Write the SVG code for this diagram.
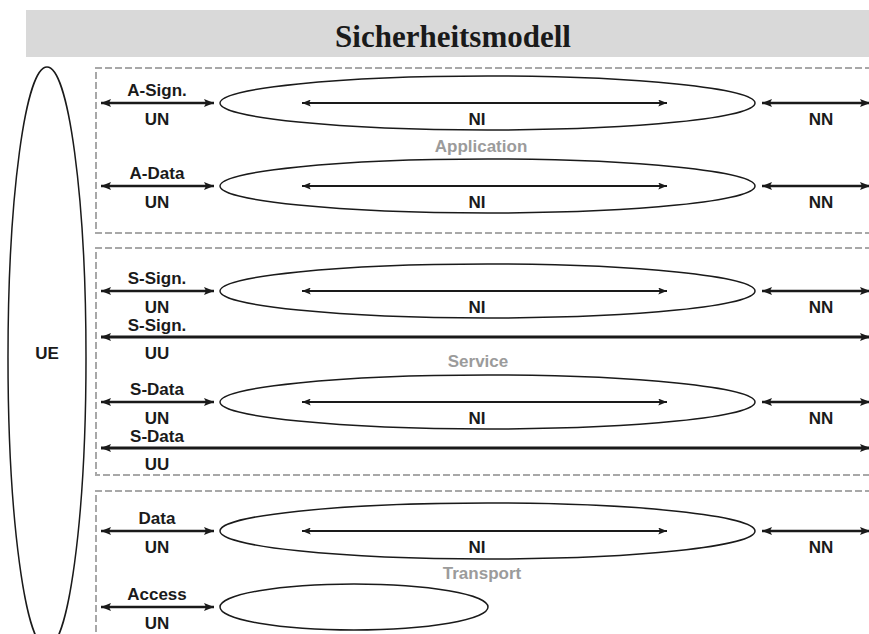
<svg xmlns="http://www.w3.org/2000/svg" width="869" height="634" viewBox="0 0 869 634">
  <defs>
    <marker id="head" viewBox="0 0 10 8" refX="10" refY="4" markerWidth="11" markerHeight="8" markerUnits="userSpaceOnUse" orient="auto-start-reverse">
      <path d="M0,0 L10,4 L0,8 L2,4 Z" fill="#1a1a1a"/>
    </marker>
    <marker id="headSmall" viewBox="0 0 10 8" refX="10" refY="4" markerWidth="10" markerHeight="7" markerUnits="userSpaceOnUse" orient="auto-start-reverse">
      <path d="M0,0 L10,4 L0,8 L2,4 Z" fill="#1a1a1a"/>
    </marker>
  </defs>
  <style>
    .title { font-family: "Liberation Serif", "Times New Roman", serif; font-weight: bold; font-size: 31px; fill: #1a1a1a; text-anchor: middle; }
    .lbl { font-family: "Liberation Sans", Arial, sans-serif; font-weight: bold; font-size: 17px; fill: #1a1a1a; text-anchor: middle; }
    .layer { font-family: "Liberation Sans", Arial, sans-serif; font-weight: bold; font-size: 17px; fill: #9b9b9b; text-anchor: middle; }
    .box { fill: none; stroke: #a8a8a8; stroke-width: 2; stroke-dasharray: 7 3; }
    .cloud { fill: none; stroke: #1a1a1a; stroke-width: 1.5; }
    .link { fill: none; stroke: #1a1a1a; stroke-width: 2.5; marker-start: url(#head); marker-end: url(#head); }
    .ni { fill: none; stroke: #1a1a1a; stroke-width: 2; marker-start: url(#headSmall); marker-end: url(#headSmall); }
    .uu { fill: none; stroke: #1a1a1a; stroke-width: 3; marker-start: url(#head); marker-end: url(#head); }
  </style>

  <!-- heading bar -->
  <g id="heading">
    <rect x="26" y="10" width="843" height="47" fill="#d9d9d9"/>
    <text class="title" x="453" y="47">Sicherheitsmodell</text>
  </g>

  <!-- user equipment -->
  <g id="ue">
    <ellipse class="cloud" cx="47" cy="357.5" rx="39" ry="290.5"/>
    <text class="lbl" x="47" y="359">UE</text>
  </g>

  <!-- layer frames -->
  <g id="layer-application">
    <path class="box" d="M872,68 H96 V233 H872"/>
    <text class="layer" x="481" y="152">Application</text>
  </g>
  <g id="layer-service">
    <path class="box" d="M872,248 H96 V475 H872"/>
    <text class="layer" x="478" y="367">Service</text>
  </g>
  <g id="layer-transport">
    <path class="box" d="M872,491 H96 V640"/>
    <text class="layer" x="482" y="579">Transport</text>
  </g>

  <!-- network domains -->
  <g id="net-a-sign">
    <ellipse class="cloud" cx="487.5" cy="103" rx="267.5" ry="27"/>
    <text class="lbl" x="477" y="125">NI</text>
  </g>
  <g id="net-a-data">
    <ellipse class="cloud" cx="487.5" cy="186" rx="267.5" ry="27"/>
    <text class="lbl" x="477" y="208">NI</text>
  </g>
  <g id="net-s-sign">
    <ellipse class="cloud" cx="487.5" cy="291" rx="267.5" ry="27"/>
    <text class="lbl" x="477" y="313">NI</text>
  </g>
  <g id="net-s-data">
    <ellipse class="cloud" cx="487.5" cy="402" rx="267.5" ry="27"/>
    <text class="lbl" x="477" y="424">NI</text>
  </g>
  <g id="net-data">
    <ellipse class="cloud" cx="487.5" cy="531" rx="267.5" ry="28"/>
    <text class="lbl" x="477" y="553">NI</text>
  </g>
  <g id="net-access">
    <ellipse class="cloud" cx="354" cy="607" rx="134" ry="23"/>
  </g>

  <!-- connectors -->
  <g id="connectors">
    <!-- user to network -->
    <line class="link" x1="101" y1="103" x2="214" y2="103"/>
    <line class="link" x1="101" y1="186" x2="214" y2="186"/>
    <line class="link" x1="101" y1="291" x2="214" y2="291"/>
    <line class="link" x1="101" y1="402" x2="214" y2="402"/>
    <line class="link" x1="101" y1="531" x2="214" y2="531"/>
    <line class="link" x1="101" y1="607" x2="214" y2="607"/>
    <!-- inside network -->
    <line class="ni" x1="302" y1="103" x2="667" y2="103"/>
    <line class="ni" x1="302" y1="186" x2="667" y2="186"/>
    <line class="ni" x1="302" y1="291" x2="667" y2="291"/>
    <line class="ni" x1="302" y1="402" x2="667" y2="402"/>
    <line class="ni" x1="302" y1="531" x2="667" y2="531"/>
    <!-- network to network -->
    <line class="link" x1="762" y1="103" x2="870" y2="103"/>
    <line class="link" x1="762" y1="186" x2="870" y2="186"/>
    <line class="link" x1="762" y1="291" x2="870" y2="291"/>
    <line class="link" x1="762" y1="402" x2="870" y2="402"/>
    <line class="link" x1="762" y1="531" x2="870" y2="531"/>
    <!-- user to user -->
    <line class="uu" x1="101" y1="337" x2="870" y2="337"/>
    <line class="uu" x1="101" y1="448" x2="870" y2="448"/>
  </g>

  <!-- connector labels -->
  <g id="link-labels">
    <text class="lbl" x="157" y="96">A-Sign.</text>
    <text class="lbl" x="157" y="125">UN</text>
    <text class="lbl" x="821" y="125">NN</text>

    <text class="lbl" x="157" y="179">A-Data</text>
    <text class="lbl" x="157" y="208">UN</text>
    <text class="lbl" x="821" y="208">NN</text>

    <text class="lbl" x="157" y="284">S-Sign.</text>
    <text class="lbl" x="157" y="313">UN</text>
    <text class="lbl" x="821" y="313">NN</text>

    <text class="lbl" x="157" y="331">S-Sign.</text>
    <text class="lbl" x="157" y="359">UU</text>

    <text class="lbl" x="157" y="395">S-Data</text>
    <text class="lbl" x="157" y="424">UN</text>
    <text class="lbl" x="821" y="424">NN</text>

    <text class="lbl" x="157" y="442">S-Data</text>
    <text class="lbl" x="157" y="470">UU</text>

    <text class="lbl" x="157" y="524">Data</text>
    <text class="lbl" x="157" y="553">UN</text>
    <text class="lbl" x="821" y="553">NN</text>

    <text class="lbl" x="157" y="600">Access</text>
    <text class="lbl" x="157" y="629">UN</text>
  </g>
</svg>
